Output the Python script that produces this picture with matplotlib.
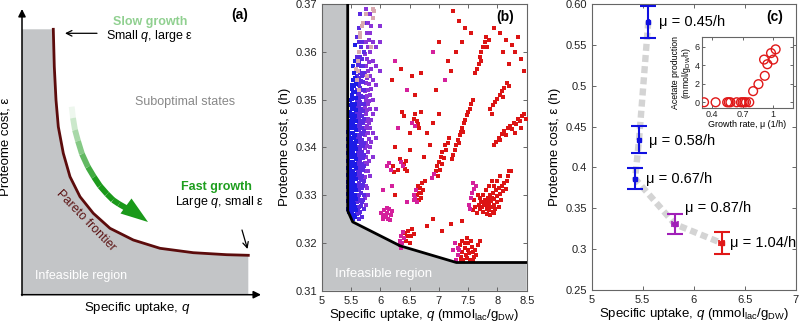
import numpy as np
import matplotlib
matplotlib.use('Agg')
import matplotlib.pyplot as plt
from matplotlib.patches import Polygon

plt.rcParams['font.family'] = ['Liberation Sans', 'DejaVu Sans']
plt.rcParams['mathtext.fontset'] = 'custom'
plt.rcParams['mathtext.rm'] = 'Liberation Sans'
plt.rcParams['mathtext.it'] = 'Liberation Sans:italic'

# ---------------- panel (a): schematic, pixel coords
pareto_x = [53.3, 54.3, 56, 58.3, 63.3, 70, 80, 93.3, 110, 133.3, 160, 193.3, 226.7, 248.3]
pareto_y = [29.3, 66.7, 100, 126.7, 153.3, 176.7, 196.7, 213.3, 228.3, 240, 248.3, 252.7, 254.7, 255.3]
green_x = [71.7, 73, 75, 78, 82, 88, 94, 100, 107, 113, 119, 126]
green_y = [106.7, 118, 130, 141, 154, 167, 177, 186, 194, 200, 204, 208]

# ---------------- panel (b): Pareto front + simulated states
front_q = [5.444, 5.444, 5.529, 6.337, 7.30, 8.5]
front_e = [0.37, 0.3267, 0.3244, 0.3194, 0.3159, 0.3159]

blue_strands = [
    (5.455, [0.3272, 0.3287, 0.3302, 0.3316, 0.3328, 0.3342, 0.3357, 0.3372, 0.3388, 0.3402, 0.3418, 0.3433]),
    (5.46, [0.3265, 0.3280, 0.3295, 0.3310, 0.3320, 0.3335, 0.3350, 0.3365, 0.3380, 0.3395, 0.3410, 0.3425, 0.3440]),
    (5.48, [0.3270, 0.3290, 0.3305, 0.3320, 0.3340, 0.3355, 0.3370, 0.3390, 0.3405, 0.3420, 0.3440, 0.3455, 0.3475, 0.3500]),
    (5.495, [0.3262, 0.3281, 0.3298, 0.3312, 0.3330, 0.3347, 0.3363, 0.3381, 0.3398, 0.3414, 0.3431, 0.3448, 0.3466, 0.3488]),
    (5.51, [0.3255, 0.3275, 0.3295, 0.3315, 0.3335, 0.3350, 0.3370, 0.3390, 0.3410, 0.3430, 0.3450, 0.3470, 0.3490, 0.3510, 0.3530]),
    (5.525, [0.3262, 0.3283, 0.3304, 0.3324, 0.3343, 0.3361, 0.3380, 0.3399, 0.3419, 0.3440, 0.3460, 0.3481, 0.3502, 0.3522]),
    (5.54, [0.3250, 0.3270, 0.3290, 0.3310, 0.3330, 0.3350, 0.3370, 0.3390, 0.3410, 0.3430, 0.3450, 0.3470, 0.3490, 0.3515, 0.3540, 0.3570]),
    (5.555, [0.3258, 0.3281, 0.3301, 0.3322, 0.3341, 0.3360, 0.3381, 0.3402, 0.3421, 0.3442, 0.3461, 0.3482, 0.3503, 0.3528, 0.3556]),
    (5.57, [0.3255, 0.3275, 0.3300, 0.3320, 0.3345, 0.3365, 0.3385, 0.3405, 0.3425, 0.3445, 0.3465, 0.3490, 0.3515, 0.3545, 0.3580, 0.3615]),
    (5.585, [0.3268, 0.3292, 0.3311, 0.3333, 0.3356, 0.3375, 0.3396, 0.3414, 0.3436, 0.3456, 0.3478, 0.3503, 0.3532]),
]
violet_strands = [
    (5.60, [0.3260, 0.3285, 0.3310, 0.3335, 0.3355, 0.3380, 0.3400, 0.3420, 0.3445, 0.3470, 0.3495, 0.3520, 0.3550, 0.3590, 0.3630]),
    (5.615, [0.3272, 0.3297, 0.3322, 0.3346, 0.3368, 0.3391, 0.3412, 0.3436, 0.3459, 0.3483, 0.3508, 0.3537, 0.3572]),
    (5.63, [0.3250, 0.3275, 0.3300, 0.3325, 0.3350, 0.3375, 0.3400, 0.3425, 0.3450, 0.3475, 0.3500, 0.3530, 0.3560, 0.3600, 0.3650]),
    (5.645, [0.3262, 0.3288, 0.3313, 0.3338, 0.3362, 0.3387, 0.3412, 0.3437, 0.3462, 0.3488, 0.3514, 0.3545, 0.3578, 0.3620]),
    (5.66, [0.3265, 0.3290, 0.3320, 0.3345, 0.3370, 0.3395, 0.3420, 0.3445, 0.3470, 0.3495, 0.3525, 0.3555, 0.3590, 0.3640, 0.3680]),
    (5.675, [0.3278, 0.3305, 0.3332, 0.3357, 0.3382, 0.3407, 0.3431, 0.3456, 0.3481, 0.3508, 0.3538, 0.3571, 0.3610]),
    (5.69, [0.3255, 0.3285, 0.3315, 0.3340, 0.3365, 0.3390, 0.3415, 0.3440, 0.3465, 0.3490, 0.3520, 0.3550, 0.3585, 0.3620]),
    (5.705, [0.3290, 0.3322, 0.3352, 0.3378, 0.3403, 0.3428, 0.3452, 0.3477, 0.3505, 0.3536, 0.3570]),
    (5.72, [0.3270, 0.3300, 0.3330, 0.3360, 0.3385, 0.3410, 0.3435, 0.3460, 0.3490, 0.3520, 0.3555, 0.3600, 0.3660]),
]
purple_strands = [
    (5.735, [0.3295, 0.3338, 0.3368, 0.3398, 0.3425, 0.3455, 0.3485, 0.3518, 0.3552, 0.3595]),
    (5.75, [0.3280, 0.3320, 0.3350, 0.3380, 0.3410, 0.3440, 0.3470, 0.3500, 0.3535, 0.3570, 0.3620, 0.3690]),
    (5.77, [0.3315, 0.3365, 0.3402, 0.3445, 0.3478, 0.3508, 0.3545, 0.3585, 0.3640]),
    (5.79, [0.3300, 0.3350, 0.3390, 0.3430, 0.3460, 0.3490, 0.3520, 0.3560, 0.3610, 0.3660]),
    (5.81, [0.3372, 0.3418, 0.3452, 0.3498, 0.3532, 0.3578, 0.3625]),
    (5.83, [0.3340, 0.3400, 0.3440, 0.3480, 0.3510, 0.3550, 0.3600, 0.3640, 0.3680]),
    (5.85, [0.3412, 0.3458, 0.3522, 0.3565, 0.3655]),
    (5.88, [0.3380, 0.3430, 0.3470, 0.3500, 0.3540, 0.3580, 0.3620, 0.3670]),
    (5.93, [0.3420, 0.3480, 0.3530, 0.3570, 0.3610]),
    (6.00, [0.3560, 0.3620, 0.3655]),
]
pale_q = [5.62, 5.63, 5.66, 5.71, 5.76, 5.78, 5.84, 5.87, 5.90, 5.64, 5.62, 5.65, 5.61, 5.88, 5.59, 5.68]
pale_e = [0.356, 0.360, 0.363, 0.366, 0.368, 0.355, 0.361, 0.369, 0.3685, 0.352, 0.358, 0.364, 0.354, 0.367, 0.3565, 0.3655]

magenta_pts = [
    (6.02, 0.3262), (6.05, 0.3258), (6.07, 0.3268), (6.10, 0.3255), (6.12, 0.3263), (6.14, 0.3250),
    (6.15, 0.3270), (6.18, 0.3258), (6.20, 0.3266), (6.11, 0.3274), (6.04, 0.3250), (6.17, 0.3247),
    (6.33, 0.3195), (6.34, 0.3205), (6.35, 0.3215), (6.37, 0.3200), (6.40, 0.3210), (6.38, 0.3222),
    (6.36, 0.3190), (6.57, 0.3290), (6.58, 0.3300), (6.60, 0.3295), (6.61, 0.3310), (6.62, 0.3285),
    (6.12, 0.3360), (6.15, 0.3368), (6.18, 0.3352), (6.36, 0.3370), (6.38, 0.3360), (6.55, 0.3450),
    (6.59, 0.3445), (7.52, 0.3280), (7.55, 0.3295), (7.57, 0.3305), (7.60, 0.3312), (7.63, 0.3320),
    (7.54, 0.3270), (7.58, 0.3325), (7.30, 0.3165), (7.33, 0.3175), (7.35, 0.3185), (7.32, 0.3190),
    (7.28, 0.3200), (7.25, 0.3185), (6.88, 0.3335), (6.92, 0.3345), (6.25, 0.3580), (6.45, 0.3520),
    (6.30, 0.3440), (6.05, 0.3310), (6.45, 0.3285), (6.90, 0.3600), (7.10, 0.3540), (6.20, 0.3320),
]
red_pts = [
    (6.42, 0.3220), (6.44, 0.3205), (6.46, 0.3215), (6.48, 0.3225), (6.50, 0.3200), (6.52, 0.3215),
    (6.55, 0.3230), (6.58, 0.3218), (6.63, 0.3300), (6.64, 0.3320), (6.66, 0.3305), (6.68, 0.3315),
    (6.69, 0.3295), (6.71, 0.3325), (6.73, 0.3310), (6.66, 0.3290), (6.70, 0.3305), (6.76, 0.3330),
    (6.22, 0.3362), (6.24, 0.3348), (6.40, 0.3365), (6.42, 0.3355), (6.44, 0.3372), (6.45, 0.3350),
    (6.30, 0.3352), (6.33, 0.3375), (6.57, 0.3460), (6.60, 0.3470), (6.62, 0.3455), (6.64, 0.3448),
    (6.66, 0.3440), (6.50, 0.3430), (6.70, 0.3475), (6.37, 0.3475), (6.40, 0.3466),
    (6.95, 0.3350), (6.97, 0.3360), (7.00, 0.3370), (7.03, 0.3380), (7.06, 0.3390), (7.08, 0.3378),
    (7.10, 0.3405), (7.12, 0.3395), (7.15, 0.3410), (7.05, 0.3365), (6.98, 0.3340), (7.02, 0.3352),
    (7.18, 0.3420), (7.25, 0.3385), (7.28, 0.3395), (7.30, 0.3405), (7.33, 0.3415), (7.36, 0.3425),
    (7.38, 0.3432), (7.40, 0.3440), (7.43, 0.3450), (7.45, 0.3458), (7.48, 0.3468), (7.50, 0.3475),
    (7.53, 0.3480), (7.55, 0.3490), (7.58, 0.3500), (7.35, 0.3410), (7.42, 0.3432), (7.22, 0.3375),
    (7.58, 0.3268), (7.62, 0.3275), (7.65, 0.3262), (7.68, 0.3280), (7.70, 0.3270), (7.72, 0.3285),
    (7.74, 0.3275), (7.76, 0.3265), (7.78, 0.3290), (7.80, 0.3280), (7.82, 0.3272), (7.84, 0.3295),
    (7.85, 0.3283), (7.86, 0.3268), (7.88, 0.3300), (7.89, 0.3288), (7.90, 0.3276), (7.92, 0.3265),
    (7.93, 0.3305), (7.94, 0.3292), (7.95, 0.3280), (7.96, 0.3270), (7.98, 0.3310), (7.99, 0.3298),
    (8.00, 0.3285), (8.02, 0.3275), (8.03, 0.3315), (8.05, 0.3302), (8.06, 0.3290), (8.08, 0.3320),
    (8.10, 0.3308), (8.12, 0.3325), (8.14, 0.3313), (8.16, 0.3330), (8.18, 0.3340), (8.20, 0.3350),
    (7.75, 0.3300), (7.80, 0.3310), (7.70, 0.3295), (7.66, 0.3300), (7.60, 0.3290), (7.85, 0.3320),
    (7.90, 0.3330), (7.95, 0.3320), (8.00, 0.3330), (8.05, 0.3340), (7.82, 0.3260), (7.88, 0.3258),
    (7.94, 0.3262), (8.24, 0.3350), (7.77, 0.3282), (7.83, 0.3287), (7.91, 0.3295), (7.87, 0.3275),
    (7.37, 0.3170), (7.40, 0.3180), (7.42, 0.3165), (7.44, 0.3190), (7.46, 0.3175), (7.48, 0.3168),
    (7.50, 0.3185), (7.52, 0.3178), (7.54, 0.3165), (7.56, 0.3192), (7.58, 0.3180), (7.60, 0.3170),
    (7.62, 0.3185), (7.64, 0.3175), (7.66, 0.3195), (7.45, 0.3200), (7.40, 0.3205), (7.36, 0.3195),
    (7.55, 0.3205), (7.50, 0.3200), (7.48, 0.3210), (7.70, 0.3205), (7.38, 0.3162), (7.58, 0.3162),
    (7.95, 0.3405), (7.98, 0.3412), (8.02, 0.3420), (8.05, 0.3415), (8.08, 0.3428), (8.12, 0.3435),
    (8.15, 0.3425), (8.18, 0.3440), (8.22, 0.3445), (8.25, 0.3438), (8.28, 0.3452), (8.32, 0.3448),
    (8.35, 0.3460), (8.38, 0.3455), (8.42, 0.3465), (8.45, 0.3470), (8.48, 0.3460), (8.30, 0.3430),
    (8.40, 0.3440), (7.88, 0.3480), (7.92, 0.3488), (7.96, 0.3495), (8.00, 0.3502), (8.04, 0.3510),
    (8.08, 0.3518), (8.12, 0.3525), (8.16, 0.3535), (8.20, 0.3528), (7.90, 0.3470), (8.10, 0.3505),
    (7.62, 0.3555), (7.65, 0.3565), (7.68, 0.3575), (7.70, 0.3590), (7.72, 0.3600), (7.75, 0.3610),
    (7.78, 0.3620), (7.80, 0.3630), (7.82, 0.3610), (7.85, 0.3625), (7.72, 0.3580),
    (8.05, 0.3640), (8.15, 0.3625), (8.25, 0.3615), (8.30, 0.3600), (8.40, 0.3585), (8.45, 0.3560),
    (8.35, 0.3630), (8.10, 0.3600), (7.95, 0.3650), (8.20, 0.3575),
    (7.25, 0.3685), (7.35, 0.3665), (7.45, 0.3650), (7.40, 0.3620), (7.15, 0.3580), (7.20, 0.3560),
    (6.95, 0.3520), (7.30, 0.3600), (7.55, 0.3640), (7.00, 0.3470), (6.90, 0.3450),
    (6.35, 0.3565), (6.20, 0.3540), (6.55, 0.3550), (6.70, 0.3555), (6.60, 0.3510), (6.80, 0.3430),
    (6.85, 0.3405), (6.25, 0.3400), (6.50, 0.3395), (6.75, 0.3380), (7.00, 0.3620),
    (6.25, 0.3300), (6.80, 0.3235), (6.90, 0.3250), (7.05, 0.3225), (7.20, 0.3240), (7.40, 0.3245),
]

# ---------------- panel (c): experimental points
c_q = [5.555, 5.464, 5.425, 5.817, 6.275]
c_e = [0.5785, 0.4337, 0.3863, 0.3305, 0.3074]
c_qerr = [0.004, 0.004, 0.004, 0.025, 0.025]
c_eerr = [0.0195, 0.0165, 0.0125, 0.0124, 0.013]
c_colors = ['#1010e0', '#1010e0', '#1010e0', '#a020b8', '#e01818']
c_labels = ['\u03bc = 0.45/h', '\u03bc = 0.58/h', '\u03bc = 0.67/h', '\u03bc = 0.87/h', '\u03bc = 1.04/h']
c_label_q = [5.66, 5.56, 5.53, 5.91, 6.36]
c_label_e = [0.578, 0.432, 0.386, 0.350, 0.307]

# inset: acetate production vs growth rate
mu = [0.323, 0.436, 0.549, 0.565, 0.581, 0.642, 0.684, 0.700, 0.716, 0.733, 0.765,
      0.803, 0.855, 0.917, 0.910, 0.942, 0.978, 1.000, 1.023]
acetate = [0, 0, 0, 0, 0, 0, 0, 0, 0, 0, 0,
           1.2, 1.95, 2.85, 4.6, 4.1, 5.3, 4.6, 5.7]

GRAY = '#c3c5c7'
SPINE = '#666666'

fig = plt.figure(figsize=(8.0, 3.23), dpi=100)

# ======================= (a)
axa = fig.add_axes([0, 0, 270 / 800, 1])
axa.set_xlim(0, 270)
axa.set_ylim(323, 0)
axa.axis('off')
poly_x = [22, 22] + pareto_x + [248.3, 248.3]
poly_y = [294.7, 29.3] + pareto_y + [255.3, 294.7]
axa.add_patch(Polygon(list(zip(poly_x, poly_y)), closed=True, fc=GRAY, ec='none'))
axa.plot(pareto_x, pareto_y, color='#5c0c0c', lw=2)
axa.annotate('', xy=(22, 9), xytext=(22, 295.5),
             arrowprops=dict(arrowstyle='-|>', color='black', lw=1.1, mutation_scale=11, shrinkA=0, shrinkB=0))
axa.annotate('', xy=(261, 294.7), xytext=(21.5, 294.7),
             arrowprops=dict(arrowstyle='-|>', color='black', lw=1.1, mutation_scale=11, shrinkA=0, shrinkB=0))
axa.annotate('', xy=(65, 33.3), xytext=(97, 33.3),
             arrowprops=dict(arrowstyle='->', color='black', lw=0.9, shrinkA=0, shrinkB=0))
axa.annotate('', xy=(247.5, 249), xytext=(242, 230),
             arrowprops=dict(arrowstyle='->', color='black', lw=0.9, shrinkA=0, shrinkB=0))

# gradient arrow (white -> green)
green = np.array([0.10, 0.60, 0.10])
n = len(green_x) - 1
for i in range(n):
    f = min(1.0, (i + 0.5) / (n * 0.6))
    col = (1 - f) * np.ones(3) + f * green
    axa.plot(green_x[i:i + 2], green_y[i:i + 2], color=col, lw=4.2, solid_capstyle='butt')
axa.add_patch(Polygon([(148, 222), (120.5, 213.5), (131.5, 198.5)], closed=True, fc=green, ec='none'))

axa.text(150, 21.7, 'Slow growth', color='#90d090', fontsize=9, fontweight='bold', ha='center', va='center')
axa.text(150, 35.5, 'Small $q$, large \u03b5', fontsize=9, ha='center', va='center')
axa.text(185, 101.7, 'Suboptimal states', color='#888888', fontsize=9, ha='center', va='center')
axa.text(216.7, 186.7, 'Fast growth', color='#1e9e1e', fontsize=9, fontweight='bold', ha='center', va='center')
axa.text(220, 201.7, 'Large $q$, small \u03b5', fontsize=9, ha='center', va='center')
axa.text(86, 221, 'Pareto frontier', color='#5c1414', fontsize=9, ha='center', va='center', rotation=-46,
         rotation_mode='anchor')
axa.text(35, 275.5, 'Infeasible region', color='white', fontsize=9, ha='left', va='center')
axa.text(240, 15, '(a)', fontsize=10, fontweight='bold', ha='center', va='center')
axa.text(6, 147, 'Proteome cost, \u03b5', fontsize=9.5, rotation=90, ha='center', va='center')
axa.text(137, 308.5, 'Specific uptake, $q$', fontsize=9.5, ha='center', va='center')


def style(ax, fs=8):
    for s in ax.spines.values():
        s.set_color(SPINE)
        s.set_linewidth(0.8)
    ax.tick_params(direction='in', top=True, right=True, length=3, width=0.7, colors=SPINE,
                   labelcolor='#222222', labelsize=fs)


# ======================= (b)
axb = fig.add_axes([321.7 / 800, (323 - 290.7) / 323, 205 / 800, 286.7 / 323])
axb.set_xlim(5, 8.5)
axb.set_ylim(0.31, 0.37)
fill_q = [5] + front_q + [8.5, 5]
fill_e = [0.37] + front_e + [0.31, 0.31]
axb.fill(fill_q, fill_e, color=GRAY, lw=0, zorder=1)
axb.plot(front_q, front_e, color='black', lw=2, zorder=4)

for strands, col in [(purple_strands, '#8a34d8'), (violet_strands, '#5a2ae2'), (blue_strands, '#1c1ce6')]:
    qs = [q for q, ys in strands for _ in ys]
    es = [e for q, ys in strands for e in ys]
    axb.scatter(qs, es, s=6, marker='s', color=col, linewidths=0, zorder=3)
axb.scatter(pale_q, pale_e, s=6, marker='s', color='#d8a8b0', linewidths=0, zorder=3)
axb.scatter([p[0] for p in red_pts], [p[1] for p in red_pts], s=6, marker='s', color='#dc1414',
            linewidths=0, zorder=3)
axb.scatter([p[0] for p in magenta_pts], [p[1] for p in magenta_pts], s=6, marker='s', color='#d4209c',
            linewidths=0, zorder=3)

axb.text(5.22, 0.3135, 'Infeasible region', color='white', fontsize=9.5, ha='left', va='center', zorder=5)
axb.text(0.94, 0.955, '(b)', transform=axb.transAxes, fontsize=10, fontweight='bold', ha='right', va='center')
axb.set_xticks([5, 5.5, 6, 6.5, 7, 7.5, 8, 8.5])
axb.set_xticklabels(['5', '5.5', '6', '6.5', '7', '7.5', '8', '8.5'])
axb.set_yticks([0.31, 0.32, 0.33, 0.34, 0.35, 0.36, 0.37])
axb.set_yticklabels(['0.31', '0.32', '0.33', '0.34', '0.35', '0.36', '0.37'])
style(axb)
axb.set_ylabel('Proteome cost, \u03b5 (h)', fontsize=9.5, labelpad=3)
axb.set_xlabel(r'Specific uptake, $q$ (mmol$_{\mathrm{lac}}$/g$_{\mathrm{DW}}$)', fontsize=9.5, labelpad=1)

# ======================= (c)
axc = fig.add_axes([591.7 / 800, (323 - 290) / 323, 204 / 800, 286 / 323])
axc.set_xlim(5, 7)
axc.set_ylim(0.25, 0.6)
axc.plot(c_q, c_e, color='#d4d4d4', lw=4.6, linestyle=(0, (1.1, 0.65)), solid_capstyle='butt', zorder=1)
for i in range(len(c_q)):
    axc.errorbar(c_q[i], c_e[i], yerr=c_eerr[i], color=c_colors[i], lw=1.5, capsize=6, capthick=1.5,
                 marker='s', ms=2.2, zorder=3)
    axc.errorbar(c_q[i], c_e[i], xerr=c_qerr[i], color=c_colors[i], lw=1.3, capsize=2.5, capthick=1.2,
                 fmt='none', zorder=3)
    axc.text(c_label_q[i], c_label_e[i], c_labels[i], fontsize=10.5, ha='left', va='center')
axc.text(0.94, 0.955, '(c)', transform=axc.transAxes, fontsize=10, fontweight='bold', ha='right', va='center')
axc.set_xticks([5, 5.5, 6, 6.5, 7])
axc.set_xticklabels(['5', '5.5', '6', '6.5', '7'])
axc.set_yticks([0.25, 0.3, 0.35, 0.4, 0.45, 0.5, 0.55, 0.6])
axc.set_yticklabels(['0.25', '0.3', '0.35', '0.4', '0.45', '0.5', '0.55', '0.60'])
style(axc)
axc.set_ylabel('Proteome cost, \u03b5 (h)', fontsize=9.5, labelpad=3)
axc.set_xlabel(r'Specific uptake, $q$ (mmol$_{\mathrm{lac}}$/g$_{\mathrm{DW}}$)', fontsize=9.5, labelpad=1)

# inset
axi = fig.add_axes([701.7 / 800, (323 - 108.3) / 323, 91 / 800, 71 / 323])
axi.scatter(mu, acetate, s=40, facecolors='none', edgecolors='#e01818', linewidths=1.0, zorder=3)
axi.set_xlim(0.3, 1.19)
axi.set_ylim(-0.65, 7)
axi.set_xticks([0.4, 0.7, 1])
axi.set_xticklabels(['0.4', '0.7', '1'])
axi.set_yticks([0, 2, 4, 6])
style(axi, fs=6.5)
axi.tick_params(length=2, pad=1.5)
axi.set_xlabel('Growth rate, \u03bc (1/h)', fontsize=6.5, labelpad=0.5)
axi.set_ylabel('Acetate production\n(mmol/g$_{\\mathrm{DW}}$h)', fontsize=6.3, labelpad=1, linespacing=1.0)

fig.savefig('out.png', dpi=100)
